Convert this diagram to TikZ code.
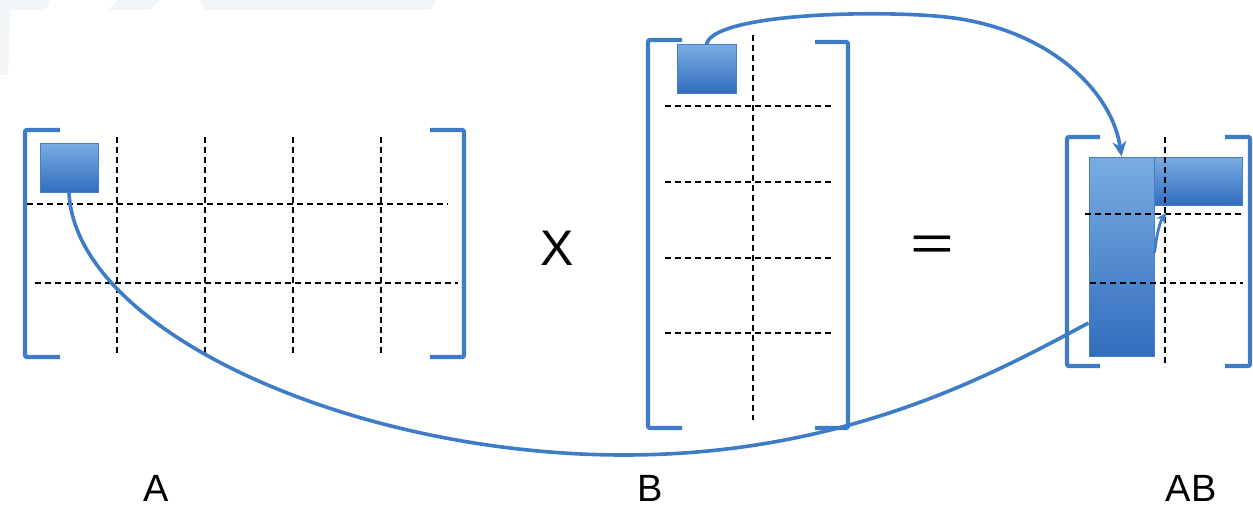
\documentclass[tikz,border=0pt]{standalone}
\usepackage{fontspec}
\setmainfont{Liberation Sans}
\usetikzlibrary{arrows.meta,calc}
\definecolor{lineblue}{RGB}{62,124,200}
\definecolor{boxtop}{RGB}{122,172,226}
\definecolor{boxbot}{RGB}{50,110,190}
\definecolor{boxedge}{RGB}{70,125,195}
\definecolor{faint}{RGB}{242,246,248}
\tikzset{
  bluebox/.style={draw=boxedge, line width=1pt, top color=boxtop, bottom color=boxbot, inner sep=0pt},
  bracket/.style={draw=lineblue, line width=4.2pt, rounded corners=2pt},
  grid/.style={draw=black, line width=1.6pt, dash pattern=on 6pt off 4pt},
  link/.style={draw=lineblue, line width=3.6pt},
  bigtip/.style={-{Stealth[length=15pt,width=14pt]}},
  smalltip/.style={-{Stealth[length=10pt,width=10pt]}},
  lbl/.style={font=\fontsize{38}{40}\selectfont, anchor=base, inner sep=0pt},
  op/.style={font=\fontsize{50}{52}\selectfont, inner sep=0pt}
}
\begin{document}
\begin{tikzpicture}[x=1pt,y=-1pt]
\useasboundingbox (0,0) rectangle (1253,511);
\fill[white] (0,0) rectangle (1253,511);
% faint background marks
\fill[faint] (200,0) -- (437,0) -- (430,10) -- (205,10) -- cycle;
\fill[faint] (118,0) -- (160,0) -- (150,10) -- (108,10) -- cycle;
\fill[faint] (0,0) -- (50,0) -- (45,10) -- (10,10) -- (8,75) -- (0,75) -- cycle;

% ---- blue boxes ----
\node[bluebox, minimum width=58pt, minimum height=49pt] (asq) at (69,167.5) {};
\node[bluebox, minimum width=59pt, minimum height=48pt] (bsq) at (706.5,69) {};
\node[bluebox, minimum width=65pt, minimum height=199pt] (abcol) at (1121.5,256.5) {};
\node[bluebox, minimum width=88pt, minimum height=48pt] (abrow) at (1198,181) {};

% ---- matrix A ----
\draw[bracket] (60,130) -- (25,130) -- (25,357) -- (60,357);
\draw[bracket] (430,130) -- (464,130) -- (464,357) -- (430,357);
\foreach \x in {117,205,293,381} \draw[grid] (\x,137) -- (\x,357);
\draw[grid] (27,204) -- (448,204);
\draw[grid] (35,283) -- (458,283);

% ---- matrix B ----
\draw[bracket] (682,40) -- (648,40) -- (648,428) -- (682,428);
\draw[bracket] (815,42) -- (848,42) -- (848,428) -- (815,428);
\draw[grid] (753,35) -- (753,420);
\foreach \y in {106,182,258,333} \draw[grid] (665,\y) -- (833,\y);

% ---- matrix AB ----
\draw[bracket] (1100,137) -- (1067,137) -- (1067,366) -- (1100,366);
\draw[bracket] (1225,137) -- (1250,137) -- (1250,366) -- (1225,366);
\draw[grid] (1165,137) -- (1165,367);
\draw[grid] (1085,214) -- (1243,214);
\draw[grid] (1090,283) -- (1243,283);

% ---- operators and labels ----
\node[op] (times) at (557,248) {X};
\node[op] (eq) at (932,248) {\scalebox{1.5}[1]{=}};
\node[lbl] (la) at (156,501) {A};
\node[lbl] (lb) at (650,501) {B};
\node[lbl] (lab) at (1191,501) {AB};

% ---- connectors ----
\coordinate (tipin) at (1166,213);
\draw[link] (asq.south) .. controls (75,330) and (350,455) .. (624,455)
  .. controls (850,455) and (1000,370) .. ([yshift=-66.5pt]abcol.west);
\draw[link, bigtip] (bsq.north) .. controls (712,15) and (860,10) .. (935,16)
  .. controls (1045,24) and (1112,90) .. (abcol.north);
\draw[link, line width=2.8pt, smalltip] ([yshift=4pt]abcol.east) .. controls (1157,232) and (1160,222) .. (tipin);
\end{tikzpicture}
\end{document}
